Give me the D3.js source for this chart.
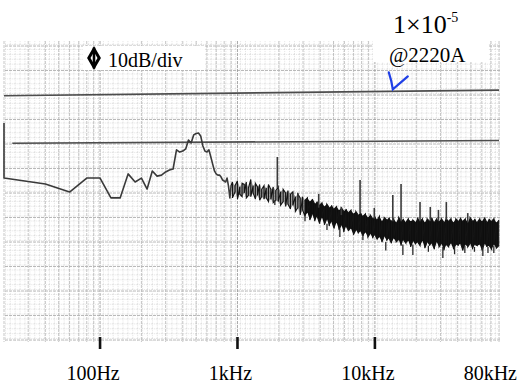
<!DOCTYPE html>
<html><head><meta charset="utf-8">
<script src="https://cdn.jsdelivr.net/npm/d3@7"></script>
<style>body{margin:0;background:#fff}svg{display:block}</style>
</head><body><svg id="c" width="520" height="383"></svg>
<script>
// ---- data (frequency in Hz, level in dB, 10 dB/div) ----
const lowFreq = [20,20,40,60,80,100,120,140,160,180,200,220,240,260,280,300,320,340,360,380,400,420,440,460,480,500,520,540,560,580,600,620,640,660,680,700,720,740,760,780,800,820,840,860,880,900];
const lowDb   = [88.6,66.1,63.7,60.4,66.1,66.1,58.0,58.0,67.8,64.5,66.1,61.6,69.0,66.9,67.3,68.6,69.4,69.8,77.6,76.7,77.1,78.0,81.6,80.4,83.7,84.3,84.5,83.3,79.2,77.1,76.7,77.6,74.7,71.8,69.0,67.8,67.3,67.3,66.5,65.3,64.9,64.5,66.1,62.9,58.0,63.3];

// noise band: [freq, upper dB, lower dB]
const noiseBand = [
 [920,64.5,58.0],[960,63.0,60.5],[1000,65.0,57.5],[1040,62.5,59.5],[1080,64.0,58.5],[1120,63.5,60.0],
 [1160,64.5,58.0],[1200,62.0,59.0],[1250,65.5,58.5],[1300,63.0,60.0],[1350,64.0,57.5],[1400,62.5,59.0],
 [1450,63.5,57.0],[1500,61.5,58.5],[1560,63.0,57.5],[1620,62.0,58.0],[1680,63.5,56.5],[1750,61.5,57.5],
 [1820,62.5,56.0],[1900,61.0,57.0],[1980,62.5,56.5],[2060,60.5,55.0],[2150,61.5,56.5],[2240,60.0,54.5],
 [2330,61.0,55.5],[2430,59.5,53.5],[2530,60.5,55.0],[2640,58.5,52.5],[2750,59.5,54.0],[2860,58.0,51.0],
 [2980,58.5,53.0],[3100,57.0,50.5],[3230,58.0,52.0],[3360,56.5,49.0],[3500,57.5,51.5],[3650,55.5,48.5],
 [3800,56.5,50.5],[3960,55.0,47.5],[4120,56.0,50.0],[4290,54.5,47.0],[4470,55.5,49.5],[4650,54.0,46.5],
 [4850,55.0,48.5],[5050,53.5,45.5],[5260,54.5,48.0],[5480,53.0,45.0],[5700,54.0,47.0],[5940,52.5,44.0],
 [6180,53.5,46.5],[6440,52.0,44.5],[6700,53.0,45.5],[6980,51.5,43.0],[7270,52.5,45.0],[7570,51.0,43.5],
 [7880,52.0,44.5],[8200,50.5,42.5],[8540,51.5,44.0],[8890,50.0,42.0],[9260,51.0,43.5],[9640,49.5,41.5],
 [10000,50.5,43.0],[10400,49.0,41.0],[10800,50.5,42.0],[11250,48.5,40.0],[11700,50.0,42.5],[12200,49.0,40.5],
 [12700,50.0,41.5],[13200,48.5,39.5],[13700,49.5,41.5],[14300,48.0,40.0],[14900,50.0,41.0],[15500,48.5,38.5],
 [16100,49.5,41.0],[16800,48.0,39.5],[17500,49.5,40.5],[18200,48.5,38.0],[18900,49.0,40.5],[19700,48.0,39.0],
 [20500,50.0,40.0],[21300,48.5,38.5],[22200,49.5,40.5],[23100,48.0,37.5],[24000,49.5,40.0],[25000,48.5,38.5],
 [26000,50.0,39.5],[27100,48.0,37.0],[28200,49.5,40.0],[29300,48.5,38.0],[30500,49.5,39.5],[31800,48.0,36.5],
 [33100,50.0,39.0],[34400,48.5,38.0],[35800,49.5,39.5],[37300,48.0,37.0],[38800,49.5,39.0],[40400,48.5,38.5],
 [42000,50.0,39.5],[43700,48.5,36.5],[45500,49.5,39.0],[47400,48.0,38.0],[49300,50.0,39.5],[51300,48.5,37.0],
 [53400,49.5,39.0],[55600,48.0,38.5],[57900,49.5,39.0],[60200,48.5,36.5],[62700,50.0,39.5],[65200,48.0,38.0],
 [67900,49.5,38.5],[70700,48.5,37.0],[73500,49.5,39.0],[76500,48.0,37.5],[79600,49.0,38.5]
];
// discrete lines: [freq, peak dB, base dB]
const spikes = [[1950,74.7,62.0],[2750,60.0,57.0],[3900,59.6,54.0],[5700,54.3,51.0],[7800,65.3,51.5],
 [9900,53.9,49.5],[13500,59.2,48.5],[15500,63.7,48.5],[21300,56.3,48.5],[25300,54.3,48.5],
 [29000,53.1,48.5],[33100,56.3,49.0],[47400,51.8,48.0]];
// downward noise dips: [freq, top dB, bottom dB]
const dips = [[1870,57.0,55.1],[3100,51.0,48.5],[4480,47.5,44.9],[5560,45.5,42.0],[8180,43.0,40.8],
 [12000,40.0,36.5],[15980,39.0,34.7],[18890,39.0,34.7],[24500,38.5,36.0],[31230,38.0,33.5],
 [38000,38.0,35.0],[45130,38.5,35.5],[53000,38.0,36.0],[61030,38.0,34.3],[66500,38.0,35.5],[73350,38.5,35.5]];
// horizontal reference lines: [start freq, end freq, start dB, end dB]
const refLines = [[20,80000,99.7,102.0],[23,80000,80.3,81.4]];
const tickFreqs = [100,1000,10000];
const tickLabels = [{f:100,t:"100Hz"},{f:1000,t:"1kHz"},{f:10000,t:"10kHz"},{f:80000,t:"80kHz"}];
const arrowAt = {f:13500, db:102.3};

// ---- scales ----
const svg = d3.select("#c");
const x = d3.scaleLog().domain([20,80000]).range([4,499]);
const y = d3.scaleLinear().domain([0,120]).range([340,46]);
const serif = "'Liberation Serif','Times New Roman',serif";

// fine grid pattern
const defs = svg.append("defs");
const pat = defs.append("pattern").attr("id","fine").attr("patternUnits","userSpaceOnUse")
  .attr("width",4.9).attr("height",4.9);
pat.append("path").attr("d","M0,0.5H4.9M0.5,0V4.9").attr("stroke","#d6d6d6").attr("stroke-width",0.7)
  .attr("stroke-dasharray","1,1").attr("fill","none");

const gTop = 41, gBot = 342;
svg.append("rect").attr("x",x(20)+1).attr("y",gTop).attr("width",x(80000)-x(20)).attr("height",gBot-gTop)
  .attr("fill","url(#fine)");
const grid = svg.append("g");
grid.selectAll("line.h").data(y.ticks(12)).join("line")
  .attr("x1",x(20)+1).attr("x2",x(80000)+1).attr("y1",d=>y(d)).attr("y2",d=>y(d))
  .attr("stroke","#a8a8a8").attr("stroke-width",0.8).attr("stroke-dasharray","3,1");
grid.selectAll("line.v").data(x.ticks()).join("line")
  .attr("x1",d=>x(d)).attr("x2",d=>x(d)).attr("y1",gTop).attr("y2",gBot)
  .attr("stroke",d=>tickFreqs.includes(d)?"#959595":"#b8b8b8").attr("stroke-width",0.8)
  .attr("stroke-dasharray","3,1");

// white label patches on the scanned paper
svg.append("rect").attr("x",83).attr("y",46).attr("width",122).attr("height",24).attr("fill","#fff");
svg.append("rect").attr("x",373).attr("y",36).attr("width",115).attr("height",26).attr("fill","#fff");

// reference lines
svg.selectAll("line.ref").data(refLines).join("line")
  .attr("x1",d=>x(d[0])).attr("x2",d=>x(d[1])).attr("y1",d=>y(d[2])).attr("y2",d=>y(d[3]))
  .attr("stroke","#4d4d4d").attr("stroke-width",1.6);

// low-frequency trace
const line = d3.line().x(d=>x(d[0])).y(d=>y(d[1]));
const lowPts = lowFreq.map((f,i)=>[f,lowDb[i]]);
svg.append("path").attr("d",line(lowPts)).attr("fill","none").attr("stroke","#3a3a3a").attr("stroke-width",1.6)
  .attr("stroke-linejoin","round");

// noise band area
const area = d3.area().x(d=>x(d[0])).y0(d=>y(d[2])).y1(d=>y(d[1]));
svg.append("path").attr("d",area(noiseBand.filter(d=>d[0]<3200))).attr("fill","#262626").attr("opacity",0.45);
svg.append("path").attr("d",area(noiseBand.filter(d=>d[0]>=3100))).attr("fill","#0e0e0e");

// noise trace through the band
const zig = [[lowFreq[lowFreq.length-1], lowDb[lowDb.length-1]]];
noiseBand.forEach((d,i)=>{ if(i%3!==1){zig.push([d[0],d[1]]);zig.push([d[0],d[2]]);} else {zig.push([d[0],d[2]]);zig.push([d[0],d[1]]);} });
svg.append("path").attr("d",line(zig)).attr("fill","none").attr("stroke","#141414").attr("stroke-width",1.1);

// spikes and dips
svg.selectAll("line.sp").data(spikes).join("line")
  .attr("x1",d=>x(d[0])).attr("x2",d=>x(d[0])).attr("y1",d=>y(d[1])).attr("y2",d=>y(d[2]))
  .attr("stroke","#3a3a3a").attr("stroke-width",1.6);
svg.selectAll("line.dp").data(dips).join("line")
  .attr("x1",d=>x(d[0])).attr("x2",d=>x(d[0])).attr("y1",d=>y(d[1])).attr("y2",d=>y(d[2]))
  .attr("stroke","#2a2a2a").attr("stroke-width",1.3);

// ticks and labels
svg.selectAll("line.tk").data(tickFreqs).join("line")
  .attr("x1",d=>x(d)).attr("x2",d=>x(d)).attr("y1",y(0)-3).attr("y2",y(0)+9)
  .attr("stroke","#111").attr("stroke-width",2.6);
svg.selectAll("text.tl").data(tickLabels).join("text")
  .attr("x",d=>d.f===80000?517:x(d.f)-7).attr("y",380)
  .attr("text-anchor",d=>d.f===80000?"end":"middle")
  .attr("font-family",serif).attr("font-size",20).attr("fill","#000").text(d=>d.t);

// 10dB/div label with symbol
const sym = svg.append("g").attr("transform","translate(94,58)");
sym.append("path").attr("d","M0,-9L5.2,0L0,9L-5.2,0Z").attr("fill","none").attr("stroke","#000").attr("stroke-width",3);
sym.append("line").attr("x1",0).attr("x2",0).attr("y1",-10.5).attr("y2",10.5).attr("stroke","#000").attr("stroke-width",2.6);
svg.append("text").attr("x",108).attr("y",67).attr("font-family",serif).attr("font-size",20).text("10dB/div");

// scale annotation
const t1 = svg.append("text").attr("x",393).attr("y",33).attr("font-family",serif).attr("font-size",26).text("1×10");
t1.append("tspan").attr("dy",-11).attr("font-size",14).text("-5");
svg.append("text").attr("x",389).attr("y",62).attr("font-family",serif).attr("font-size",21).text("@2220A");

// hand-drawn blue arrow
const ax = x(arrowAt.f), ay = y(arrowAt.db);
svg.append("path").attr("d",`M${ax-4},${ay-17} Q${ax-1},${ay-8} ${ax},${ay} L${ax+15},${ay-13}`)
  .attr("fill","none").attr("stroke","#1f3fe6").attr("stroke-width",2.2).attr("stroke-linecap","round");
</script></body></html>
